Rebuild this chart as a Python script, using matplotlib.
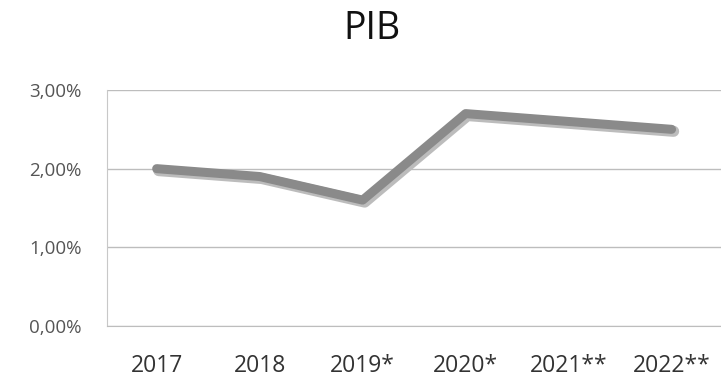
import numpy as np
import matplotlib.pyplot as plt

# data
years = ['2017', '2018', '2019*', '2020*', '2021**', '2022**']
pib = [2.00, 1.90, 1.60, 2.70, 2.60, 2.50]
y_ticks = [0, 1, 2, 3]
y_labels = ['0,00%', '1,00%', '2,00%', '3,00%']

plt.rcParams['font.family'] = ['Open Sans', 'DejaVu Sans']

fig = plt.figure(figsize=(7.21, 3.79), dpi=100)
ax = fig.add_axes([0.148, 0.14, 0.852, 0.6225])

x = np.arange(len(years))
# soft shadow under the line, then the grey line itself
ax.plot(x + 0.02, np.array(pib) - 0.025, color='#bcbcbc', lw=8, solid_capstyle='round', zorder=2)
ax.plot(x, pib, color='#8a8a8a', lw=6.5, solid_capstyle='round', zorder=3)

ax.set_xlim(-0.485, 5.48)
ax.set_ylim(0, 3)
ax.set_yticks(y_ticks)
ax.set_yticklabels(y_labels, fontsize=13.5, color='#555555')
ax.set_xticks(x)
ax.set_xticklabels(years, fontsize=16.5, color='#333333')

ax.grid(axis='y', color='#bdbdbd', lw=1)
ax.tick_params(axis='x', length=0, pad=20)
ax.tick_params(axis='y', length=0, pad=18)
for s in ['top', 'right']:
    ax.spines[s].set_visible(False)
ax.spines['bottom'].set_color('#bdbdbd')
ax.spines['left'].set_color('#c8c8c8')

fig.text(0.516, 0.923, 'PIB', ha='center', va='center', fontsize=27, color='#111111')

fig.savefig('out.png', dpi=100)
